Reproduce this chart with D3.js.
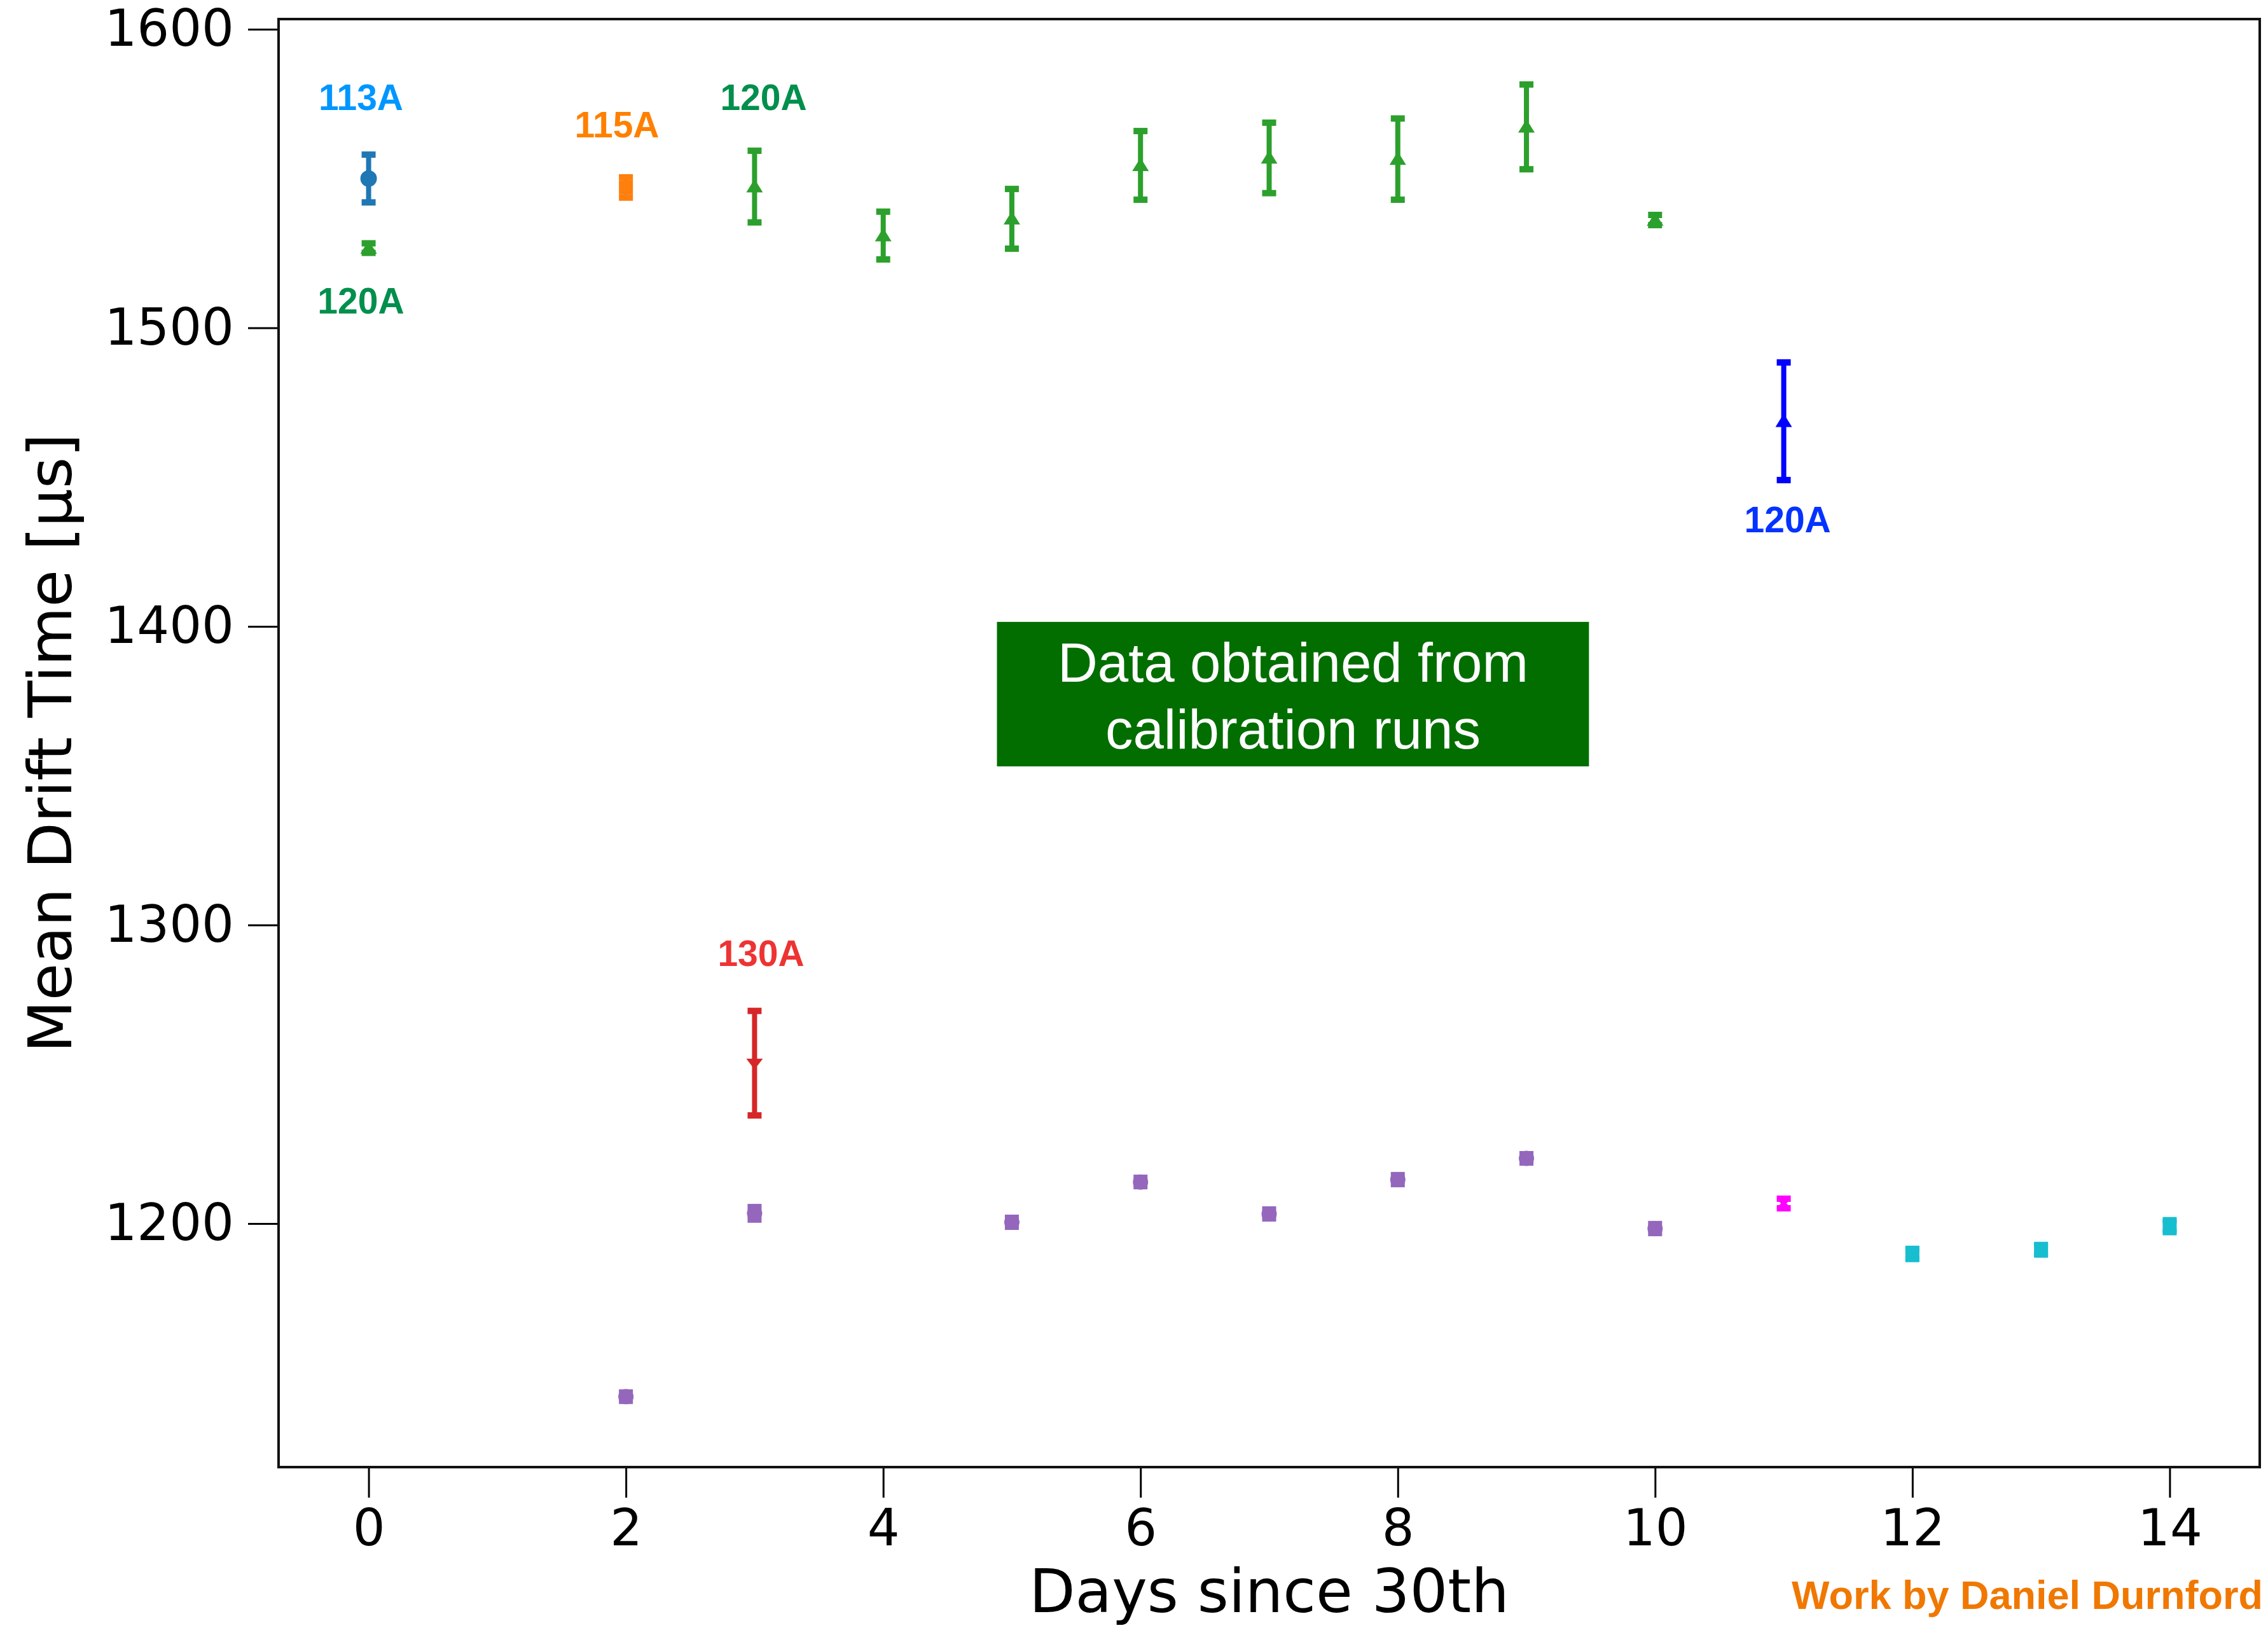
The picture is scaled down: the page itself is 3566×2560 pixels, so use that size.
<!DOCTYPE html>
<html>
<head>
<meta charset="utf-8">
<script src="https://cdn.jsdelivr.net/npm/d3@7"></script>
<style>
  body { margin: 0; background: #fff; }
  svg { display: block; }
</style>
</head>
<body>
<svg id="chart" width="3566" height="2560"></svg>
<script>
// series: day, mean drift time, error (μs)
const blueDays = [0];
const blueMean = [1550];
const blueErr = [8];

const orangeDays = [2];
const orangeMean = [1547];
const orangeErr = [3.4];

const greenDays = [0, 3, 4, 5, 6, 7, 8, 9, 10];
const greenMean = [1526.7, 1547.3, 1530.9, 1536.5, 1554.4, 1556.9, 1556.5, 1567.3, 1536.1];
const greenErr = [1.6, 12, 8, 10, 11.5, 11.8, 13.6, 14.2, 1.7];

const redDays = [3];
const redMean = [1253.7];
const redErr = [17.5];

const purpleDays = [2, 3, 5, 6, 7, 8, 9, 10];
const purpleMean = [1142, 1203.4, 1200.4, 1213.9, 1203.2, 1214.7, 1221.8, 1198.3];
const purpleErr = [1.4, 2.1, 1.5, 1.4, 1.5, 1.5, 1.4, 1.5];

const magentaDays = [11];
const magentaMean = [1206.7];
const magentaErr = [1.6];

const darkBlueDays = [11];
const darkBlueMean = [1468.7];
const darkBlueErr = [19.7];

const cyanDays = [12, 13, 14];
const cyanMean = [1189.8, 1191.2, 1199.1];
const cyanErr = [1.7, 1.6, 2.0];

const xTicks = [0, 2, 4, 6, 8, 10, 12, 14];
const yTicks = [1200, 1300, 1400, 1500, 1600];

// current labels, anchored at (day, value)
const labelText = ['113A', '120A', '115A', '120A', '120A', '130A'];
const labelDay = [-0.06, -0.06, 1.93, 3.07, 11.03, 3.05];
const labelValue = [1572.9, 1504.8, 1563.8, 1572.9, 1431.5, 1286.3];
const labelColor = ['#0096ff', '#008f4c', '#ff8000', '#008f4c', '#0433ff', '#ee3333'];

const noteLines = ['Data obtained from', 'calibration runs'];

const svg = d3.select('#chart');
const plotLeft = 438, plotRight = 3553, plotTop = 30, plotBottom = 2307;

const x = d3.scaleLinear().domain([-0.7, 14.7]).range([plotLeft, plotRight]);
const y = d3.scaleLinear().domain([1118.4, 1603.4]).range([plotBottom, plotTop]);

// axes
const xAxis = svg.append('g')
    .attr('transform', `translate(0,${plotBottom})`)
    .call(d3.axisBottom(x).tickValues(xTicks).tickFormat(d3.format('d'))
        .tickSize(48).tickPadding(18).tickSizeOuter(0));
const yAxis = svg.append('g')
    .attr('transform', `translate(${plotLeft},0)`)
    .call(d3.axisLeft(y).tickValues(yTicks).tickFormat(d3.format('d'))
        .tickSize(48).tickPadding(22).tickSizeOuter(0));

[xAxis, yAxis].forEach(a => {
    a.select('.domain').remove();
    a.selectAll('line').attr('stroke', '#000').attr('stroke-width', 3);
    a.selectAll('text')
        .attr('fill', '#000')
        .style('font-family', 'DejaVu Sans')
        .style('font-size', '80px');
});

svg.append('rect')
    .attr('x', plotLeft).attr('y', plotTop)
    .attr('width', plotRight - plotLeft).attr('height', plotBottom - plotTop)
    .attr('fill', 'none')
    .attr('stroke', '#111')
    .attr('stroke-width', 4);

// axis titles
svg.append('text')
    .attr('x', (plotLeft + plotRight) / 2).attr('y', 2535)
    .attr('text-anchor', 'middle')
    .style('font-family', 'DejaVu Sans').style('font-size', '94px')
    .text('Days since 30th');

svg.append('text')
    .attr('transform', `translate(112,${(plotTop + plotBottom) / 2}) rotate(-90)`)
    .attr('text-anchor', 'middle')
    .style('font-family', 'DejaVu Sans').style('font-size', '95px')
    .text('Mean Drift Time [μs]');

// error bar series
const plotArea = svg.append('g');

function drawSeries(days, mean, err, color, marker) {
    const pts = days.map((d, i) => ({ day: d, v: mean[i], e: err[i] }));
    const g = plotArea.append('g');
    const item = g.selectAll('g').data(pts).enter().append('g');

    item.append('line')
        .attr('x1', d => x(d.day)).attr('x2', d => x(d.day))
        .attr('y1', d => y(d.v + d.e)).attr('y2', d => y(d.v - d.e))
        .attr('stroke', color).attr('stroke-width', 8);

    [1, -1].forEach(s => {
        item.append('rect')
            .attr('x', d => x(d.day) - 11)
            .attr('y', d => y(d.v + s * d.e) - 5)
            .attr('width', 22).attr('height', 10)
            .attr('fill', color);
    });

    const cx = d => x(d.day), cy = d => y(d.v);
    if (marker === 'circle') {
        item.append('circle').attr('cx', cx).attr('cy', cy).attr('r', 13).attr('fill', color);
    } else if (marker === 'ellipse') {
        item.append('ellipse').attr('cx', cx).attr('cy', cy).attr('rx', 12).attr('ry', 12).attr('fill', color);
    } else if (marker === 'square') {
        item.append('rect')
            .attr('x', d => cx(d) - 11).attr('y', d => cy(d) - 11)
            .attr('width', 22).attr('height', 22).attr('fill', color);
    } else if (marker === 'up') {
        item.append('path')
            .attr('d', d => `M${cx(d)},${cy(d) - 12} L${cx(d) + 13},${cy(d) + 9} L${cx(d) - 13},${cy(d) + 9} Z`)
            .attr('fill', color);
    } else if (marker === 'down') {
        item.append('path')
            .attr('d', d => `M${cx(d)},${cy(d) + 10} L${cx(d) + 13},${cy(d) - 7} L${cx(d) - 13},${cy(d) - 7} Z`)
            .attr('fill', color);
    } else if (marker === 'x') {
        item.append('path')
            .attr('d', d => `M${cx(d) - 8},${cy(d) - 8} L${cx(d) + 8},${cy(d) + 8} M${cx(d) + 8},${cy(d) - 8} L${cx(d) - 8},${cy(d) + 8}`)
            .attr('stroke', color).attr('stroke-width', 6);
    }
}

drawSeries(purpleDays, purpleMean, purpleErr, '#9467bd', 'ellipse');
drawSeries(cyanDays, cyanMean, cyanErr, '#17becf', 'square');
drawSeries(magentaDays, magentaMean, magentaErr, '#ff00ff', 'x');
drawSeries(redDays, redMean, redErr, '#d62728', 'down');
drawSeries(greenDays, greenMean, greenErr, '#2ca02c', 'up');
drawSeries(orangeDays, orangeMean, orangeErr, '#ff7f0e', 'square');
drawSeries(blueDays, blueMean, blueErr, '#1f77b4', 'circle');
drawSeries(darkBlueDays, darkBlueMean, darkBlueErr, '#0000ff', 'up');

// current labels
svg.append('g').selectAll('text')
    .data(labelText.map((t, i) => ({ t, day: labelDay[i], v: labelValue[i], c: labelColor[i] })))
    .enter().append('text')
    .attr('x', d => x(d.day)).attr('y', d => y(d.v))
    .attr('text-anchor', 'middle')
    .attr('fill', d => d.c)
    .style('font-family', 'Liberation Sans, Arial, sans-serif')
    .style('font-weight', 'bold')
    .style('font-size', '57px')
    .text(d => d.t);

// green note box
const note = svg.append('g');
note.append('rect')
    .attr('x', x(4.884)).attr('y', y(1401.5))
    .attr('width', x(9.486) - x(4.884)).attr('height', y(1353.1) - y(1401.5))
    .attr('fill', '#036e00');
note.selectAll('text').data(noteLines).enter().append('text')
    .attr('x', (x(4.884) + x(9.486)) / 2)
    .attr('y', (d, i) => 1072 + i * 105)
    .attr('text-anchor', 'middle')
    .attr('fill', '#fff')
    .style('font-family', 'Liberation Sans, Arial, sans-serif')
    .style('font-size', '87px')
    .text(d => d);

// credit
svg.append('text')
    .attr('x', 3558).attr('y', 2530)
    .attr('text-anchor', 'end')
    .attr('fill', '#f07800')
    .style('font-family', 'Liberation Sans, Arial, sans-serif')
    .style('font-weight', 'bold')
    .style('font-size', '63px')
    .text('Work by Daniel Durnford');
</script>
</body>
</html>
